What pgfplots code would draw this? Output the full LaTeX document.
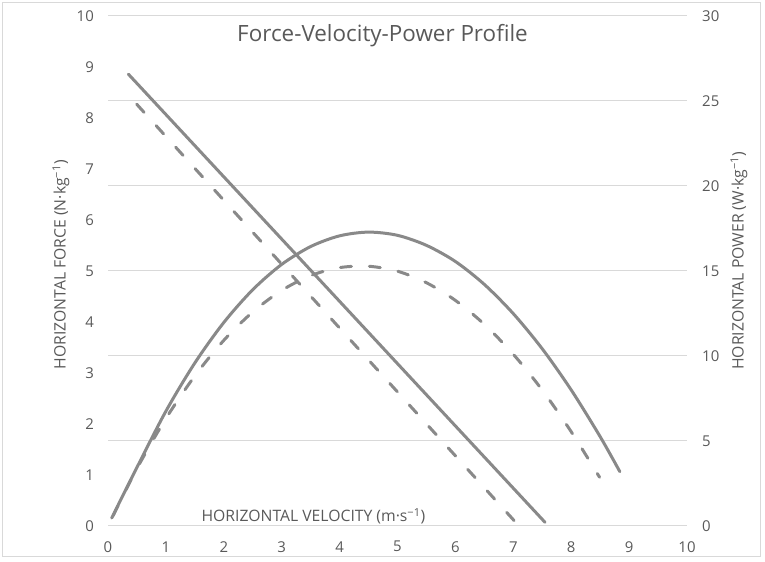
\documentclass[border=0pt]{standalone}
\usepackage{pgfplots}
\pgfplotsset{compat=1.18}
\usepackage{fontspec}
\setmainfont{Open Sans}
\definecolor{txt}{HTML}{595959}
\definecolor{grd}{HTML}{D9D9D9}
\definecolor{ln}{HTML}{898989}
\begin{document}
\begin{tikzpicture}[x=1bp,y=1bp]
\path[use as bounding box] (-108,-36.3) rectangle (657,525.7);
\draw[grd, line width=1bp] (-105,-31.3) rectangle (652,522.7);
% right axis: power, grid
\begin{axis}[at={(0,0)}, anchor=south west, scale only axis, width=579bp, height=509.7bp,
  xmin=0, xmax=10, ymin=0, ymax=30,
  axis y line*=right, axis x line=none,
  axis line style={draw=none}, major tick length=0pt,
  ytick={0,5,...,30}, ymajorgrids, grid style={grd, line width=1bp},
  /pgf/number format/assume math mode=true,
  ticklabel style={font=\fontsize{15}{18}\selectfont, text=txt},
  yticklabel style={anchor=west, inner sep=0pt, xshift=15bp},
  ylabel={HORIZONTAL POWER (W·kg\textsuperscript{−1})},
  ylabel style={at={(axis description cs:1,0.5)}, anchor=center, xshift=10bp, yshift=-52bp, font=\fontsize{15.8}{19}\selectfont, text=txt},
  clip=false]
\addplot[ln, line width=3bp, smooth, line cap=round] coordinates {
(0.064,0.45) (0.5,3.43) (1,6.74) (1.5,9.58) (2,11.96) (2.5,13.89) (3,15.38) (3.5,16.43) (4,17.06) (4.5,17.28) (5,17.09) (5.5,16.50) (6,15.55) (6.5,14.20) (7,12.48) (7.5,10.41) (8,7.99) (8.5,5.24) (8.84,3.18)};
\addplot[ln, line width=3bp, smooth, line cap=round, dash pattern=on 11bp off 18bp] coordinates {
(0.09,0.6) (0.5,3.37) (1,6.31) (1.5,8.82) (2,10.91) (2.5,12.58) (3,13.85) (3.5,14.72) (4,15.19) (4.5,15.27) (5,14.98) (5.5,14.30) (6,13.26) (6.5,11.85) (7,10.09) (7.5,7.98) (8,5.53) (8.49,2.85)};
\end{axis}
% left axis: force
\begin{axis}[at={(0,0)}, anchor=south west, scale only axis, width=579bp, height=509.7bp,
  xmin=0, xmax=10, ymin=0, ymax=10,
  axis y line*=left, axis x line*=bottom,
  axis line style={draw=none}, major tick length=0pt,
  xtick={0,...,10}, ytick={0,...,10},
  /pgf/number format/assume math mode=true,
  ticklabel style={font=\fontsize{15}{18}\selectfont, text=txt},
  yticklabel style={anchor=east, inner sep=0pt, xshift=-14bp},
  xticklabel style={anchor=center, inner sep=0pt, yshift=-21bp},
  ylabel={HORIZONTAL FORCE (N·kg\textsuperscript{−1})},
  ylabel style={at={(axis description cs:0,0.5)}, anchor=center, xshift=6bp, yshift=47bp, font=\fontsize{15.8}{19}\selectfont, text=txt},
  clip=false]
\addplot[ln, line width=3bp, line cap=round] coordinates {(0.351,8.86) (7.547,0.067)};
\addplot[ln, line width=3bp, line cap=round, dash pattern=on 11bp off 18bp] coordinates {(0.495,8.27) (7.03,0.08)};
\end{axis}
\node[anchor=base, text=txt, font=\fontsize{22.5}{27}\selectfont] at (274.5,484) {Force-Velocity-Power Profile};
\node[anchor=base, text=txt, font=\fontsize{15.8}{19}\selectfont] at (205.4,4) {HORIZONTAL VELOCITY (m·s\textsuperscript{−1})};
\end{tikzpicture}
\end{document}
